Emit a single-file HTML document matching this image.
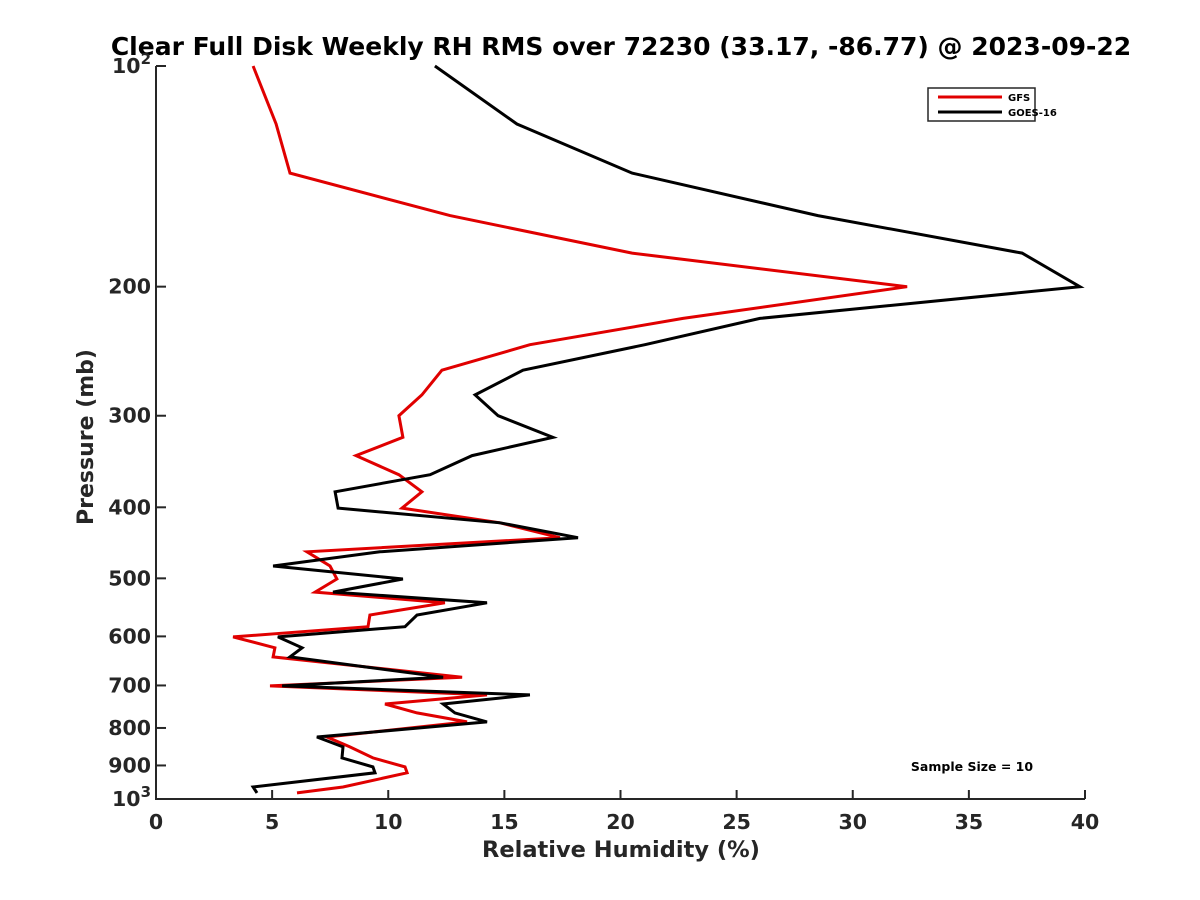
<!DOCTYPE html>
<html><head><meta charset="utf-8"><style>
body{margin:0;background:#fff;}
svg{display:block;font-family:"DejaVu Sans","Liberation Sans",sans-serif;}
</style></head><body>
<svg id="chart" width="1200" height="900" viewBox="0 0 1200 900">
<rect width="1200" height="900" fill="#fff"/>
<text x="621" y="55" text-anchor="middle" font-size="25" font-weight="bold" fill="#000">Clear Full Disk Weekly RH RMS over 72230 (33.17, -86.77) @ 2023-09-22</text>
<g id="axes"></g>
<g id="series"></g>
<text x="621" y="857" text-anchor="middle" font-size="22.5" font-weight="bold" fill="#262626">Relative Humidity (%)</text>
<text transform="translate(93,437) rotate(-90)" text-anchor="middle" font-size="22" font-weight="bold" fill="#262626">Pressure (mb)</text>
<g>
<rect x="928" y="88" width="107" height="33" fill="#fff" stroke="#262626" stroke-width="1.5"/>
<line x1="938" y1="97" x2="1002" y2="97" stroke="#e00000" stroke-width="3"/>
<text x="1008" y="101" font-size="10" font-weight="bold">GFS</text>
<line x1="938" y1="112" x2="1002" y2="112" stroke="#000" stroke-width="3"/>
<text x="1008" y="116" font-size="10" font-weight="bold">GOES-16</text>
</g>
<text x="972" y="771" text-anchor="middle" font-size="12.5" font-weight="bold">Sample Size = 10</text>
</svg>
<script>
const pressure = [100,120,140,160,180,200,221,240,260,281,300,321,340,361,381,401,420,440,460,481,501,522,540,561,582,601,622,640,682,701,721,742,763,785,823,849,879,904,921,963,981];
const gfs = [4.18,5.17,5.77,12.66,20.5,32.34,22.69,16.1,12.31,11.45,10.46,10.63,8.61,10.46,11.45,10.59,14.81,17.39,6.5,7.49,7.79,6.85,12.44,9.21,9.13,3.32,5.12,5.04,13.18,4.91,14.25,9.86,11.24,13.39,7.36,8.35,9.34,10.72,10.81,8.05,6.07];
const goes = [12.01,15.54,20.5,28.5,37.29,39.78,26.0,21.05,15.8,13.74,14.73,17.09,13.61,11.8,7.71,7.84,14.81,18.17,9.64,5.04,10.63,7.62,14.25,11.24,10.72,5.25,6.29,5.77,12.36,5.43,16.1,12.36,12.87,14.25,6.93,8.05,8.01,9.34,9.43,4.18,4.35];
const xTicks = [0,5,10,15,20,25,30,35,40];
const yTicks = [100,200,300,400,500,600,700,800,900,1000];
const X0=156,X1=1085,Y0=66,Y1=799;
const xs=v=>X0+(v-0)/40*(X1-X0);
const ys=p=>Y0+Math.log10(p/100)*(Y1-Y0);
const NS="http://www.w3.org/2000/svg";
function mk(tag,attrs,parent){const e=document.createElementNS(NS,tag);for(const k in attrs)e.setAttribute(k,attrs[k]);parent.appendChild(e);return e;}
const ax=document.getElementById('axes');
const ser=document.getElementById('series');
const c="#262626";
let l=mk('line',{x1:X0,y1:Y0,x2:X0,y2:Y1,stroke:c,'stroke-width':2},ax);


l=mk('line',{x1:X0-1,y1:Y1,x2:X1,y2:Y1,stroke:c,'stroke-width':2},ax);


xTicks.forEach(t=>{
  const x=xs(t);
  const tk=mk('line',{x1:x,y1:Y1,x2:x,y2:Y1-9,stroke:c,'stroke-width':2},ax);
  
  
  const tx=mk('text',{x:x,y:Y1+30,'text-anchor':'middle','font-size':20.5,'font-weight':'bold',fill:c},ax);
  tx.textContent=t;
  
  
});
yTicks.forEach(t=>{
  const y=ys(t);
  const tk=mk('line',{x1:X0,y1:y,x2:X0+10,y2:y,stroke:c,'stroke-width':2},ax);
  
  
  const tx=mk('text',{x:X0-5,y:y+7,'text-anchor':'end','font-size':20.5,'font-weight':'bold',fill:c},ax);
  if(t===100||t===1000){
    tx.textContent='10';
    const s=mk('tspan',{dy:-9,'font-size':15},tx);
    s.textContent=t===100?'2':'3';
    tx.setAttribute('x',X0-5);
  } else tx.textContent=t;
  
  
});
function line(vals,color,name){
  const pts=vals.map((v,i)=>xs(v).toFixed(1)+','+ys(pressure[i]).toFixed(1)).join(' ');
  const p=mk('polyline',{points:pts,fill:'none',stroke:color,'stroke-width':3,'stroke-linejoin':'miter'},ser);
  
  
}
line(gfs,'#e00000','gfs-line');
line(goes,'#000','goes16-line');
</script>
</body></html>
